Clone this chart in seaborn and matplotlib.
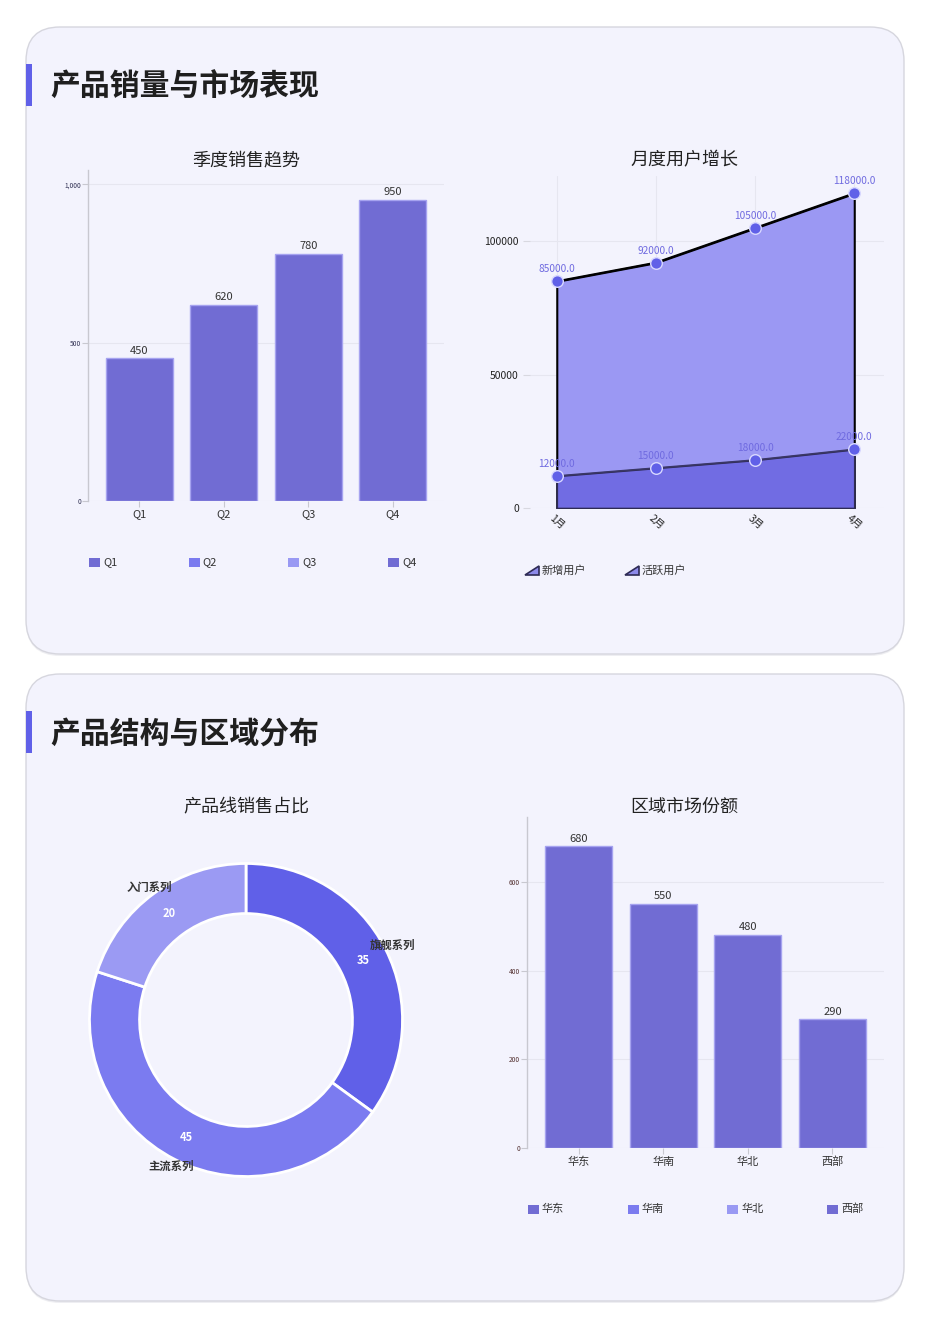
import numpy as np
import pandas as pd
import matplotlib
matplotlib.use("Agg")
import matplotlib.pyplot as plt
import seaborn as sns
from matplotlib.patches import FancyBboxPatch, Rectangle, Polygon
from matplotlib.ticker import FuncFormatter

# data
quarters = ["Q1", "Q2", "Q3", "Q4"]
quarter_sales = [450, 620, 780, 950]
months = ["1月", "2月", "3月", "4月"]
new_users = [12000, 15000, 18000, 22000]
active_users = [85000, 92000, 105000, 118000]
product_lines = ["旗舰系列", "主流系列", "入门系列"]
product_share = [35, 45, 20]
regions = ["华东", "华南", "华北", "西部"]
region_sales = [680, 550, 480, 290]

BAR = "#716cd3"
BAR_EDGE = "#a6a3f0"
LEGEND_COLORS = ["#716cd3", "#7b7bef", "#9999f3", "#716cd3"]
PIE_COLORS = ["#6060e8", "#7b7bf0", "#9b9af3"]
CARD = "#f3f3fd"
TXT = "#333333"

sns.set_theme(style="white")
plt.rcParams["font.family"] = ["Noto Sans CJK SC", "DejaVu Sans"]
plt.rcParams["axes.unicode_minus"] = False

W, H = 927, 1320
fig = plt.figure(figsize=(W / 100, H / 100), dpi=100, facecolor="white")

# pixel-space background for cards / titles / legends
bg = fig.add_axes([0, 0, 1, 1], zorder=-10)
bg.set_xlim(0, W)
bg.set_ylim(H, 0)
bg.axis("off")


def card(y0, y1, title):
    sh = FancyBboxPatch((26, y0 + 2), 878, y1 - y0, boxstyle="round,pad=0,rounding_size=34",
                        fc="#e4e4ea", ec="none", alpha=0.6)
    bg.add_patch(sh)
    c = FancyBboxPatch((26, y0), 878, y1 - y0, boxstyle="round,pad=0,rounding_size=34",
                       fc=CARD, ec="#d6d6de", lw=1)
    bg.add_patch(c)
    bg.add_patch(Rectangle((26, y0 + 37), 6, 42, fc="#6060e8", ec="none"))
    bg.text(50, y0 + 60, title, fontsize=21.5, fontweight="bold", color="#1f1f1f",
            va="center", ha="left")


card(27, 654, "产品销量与市场表现")
card(674, 1301, "产品结构与区域分布")

for x, y, t in [(246, 160, "季度销售趋势"), (684, 160, "月度用户增长"),
                (246, 807, "产品线销售占比"), (684, 807, "区域市场份额")]:
    bg.text(x, y, t, fontsize=13, color="#222222", ha="center", va="center")


def px_axes(l, t, r, b):
    ax = fig.add_axes([l / W, 1 - b / H, (r - l) / W, (b - t) / H])
    ax.set_facecolor("none")
    return ax


def square_legend(x0, y, labels, colors, step):
    for i, (lab, col) in enumerate(zip(labels, colors)):
        x = x0 + i * step
        bg.add_patch(Rectangle((x, y - 4.5), 11, 9, fc=col, ec="none"))
        bg.text(x + 14, y, lab, fontsize=8, color=TXT, va="center", ha="left")


def bar_chart(ax, cats, vals, ymax, yticks):
    df = pd.DataFrame({"cat": cats, "val": vals})
    sns.barplot(data=df, x="cat", y="val", color=BAR, width=0.79, saturation=1,
                edgecolor=BAR_EDGE, linewidth=1, ax=ax)
    ax.bar_label(ax.containers[0], padding=2, fontsize=8, color=TXT,
                 fmt="%d")
    ax.set_xlim(-0.61, 3.61)
    ax.set_ylim(0, ymax)
    ax.set_yticks(yticks)
    ax.yaxis.set_major_formatter(FuncFormatter(lambda v, p: f"{int(v):,}"))
    ax.tick_params(axis="y", labelsize=4.8, length=4, width=0.8, color="#c8c8d0",
                   pad=1, labelcolor="#333355", left=True)
    ax.tick_params(axis="x", labelsize=8, length=4, width=0.8, color="#c8c8d0",
                   pad=2, labelcolor=TXT, bottom=True)
    ax.grid(axis="y", color="#e6e6f0", lw=0.8)
    ax.set_axisbelow(True)
    for s in ["top", "right", "bottom"]:
        ax.spines[s].set_visible(False)
    ax.spines["left"].set_color("#c8c8d0")
    ax.spines["left"].set_linewidth(1)
    ax.set_xlabel("")
    ax.set_ylabel("")


# chart 1: quarterly sales
ax1 = px_axes(88, 170, 444, 501)
bar_chart(ax1, quarters, quarter_sales, 1045, [0, 500, 1000])
square_legend(89, 562, quarters, LEGEND_COLORS, 99.7)

# chart 2: monthly users
ax2 = px_axes(530, 176, 884, 508)
udf = pd.DataFrame({"pos": np.arange(len(months)), "新增用户": new_users,
                    "活跃用户": active_users})
ax2.fill_between(udf["pos"], udf["活跃用户"], color="#9b98f3", edgecolor="black",
                 lw=1.5, zorder=2)
ax2.fill_between(udf["pos"], udf["新增用户"], color="#716ce3", edgecolor="#2e2b55",
                 lw=1.2, zorder=3)
sns.lineplot(data=udf, x="pos", y="活跃用户", color="black", lw=1.5, ax=ax2, zorder=4)
sns.lineplot(data=udf, x="pos", y="新增用户", color="#3a3766", lw=1.2, ax=ax2, zorder=4)
for col in ["活跃用户", "新增用户"]:
    sns.scatterplot(data=udf, x="pos", y=col, color="#6060e8", s=70, edgecolor="#d8d8ff",
                    linewidth=1, ax=ax2, zorder=5)
    for p, v in zip(udf["pos"], udf[col]):
        ax2.annotate(f"{v:.1f}", (p, v), xytext=(0, 5), textcoords="offset points",
                     ha="center", va="bottom", fontsize=7.3, color="#6f6ae0", zorder=6)
ax2.set_xlim(-0.27, 3.3)
ax2.set_ylim(0, 124500)
ax2.set_xticks(udf["pos"])
ax2.set_xticklabels(months, rotation=-40, ha="center", rotation_mode="default")
ax2.set_yticks([0, 50000, 100000])
ax2.set_yticklabels(["0", "50000", "100000"])
ax2.tick_params(axis="y", labelsize=7.5, length=5, width=0.8, color="#d8d8e0",
                pad=3, labelcolor="#222222", left=True)
ax2.tick_params(axis="x", labelsize=7.5, length=0, pad=4, labelcolor="#222222")
ax2.grid(True, color="#e6e6f0", lw=0.8)
ax2.set_axisbelow(True)
for s in ax2.spines.values():
    s.set_visible(False)
ax2.set_xlabel("")
ax2.set_ylabel("")

for i, lab in enumerate(["新增用户", "活跃用户"]):
    x = 525 + i * 100
    bg.add_patch(Polygon([(x, 575), (x + 14, 575), (x + 14, 566)], closed=True,
                         fc="#8d8aea", ec="#2e2b55", lw=1.2))
    bg.text(x + 17, 570.5, lab, fontsize=8, color=TXT, va="center", ha="left")

# chart 3: donut
ax3 = px_axes(66, 840, 426, 1200)
wedges, texts, autotexts = ax3.pie(
    product_share, labels=product_lines, colors=PIE_COLORS, startangle=90,
    counterclock=False, radius=1, labeldistance=1.05, pctdistance=0.84,
    autopct=lambda p: f"{p:.0f}",
    wedgeprops=dict(width=0.32, edgecolor="white", linewidth=2),
    textprops=dict(fontsize=8.2, fontweight="bold", color="#333333"))
for t in texts:
    t.set_ha("center")
for t in autotexts:
    t.set_color("white")
    t.set_fontsize(8)
ax3.set_xlim(-1.15, 1.15)
ax3.set_ylim(-1.15, 1.15)
ax3.set_aspect("equal")
ax3.axis("off")

# chart 4: regional share
ax4 = px_axes(527, 817, 884, 1148)
bar_chart(ax4, regions, region_sales, 746, [0, 200, 400, 600])
ax4.tick_params(axis="y", labelcolor="#553333")
square_legend(528, 1209, regions, LEGEND_COLORS, 99.7)

fig.savefig("out.png", dpi=100, facecolor="white")
